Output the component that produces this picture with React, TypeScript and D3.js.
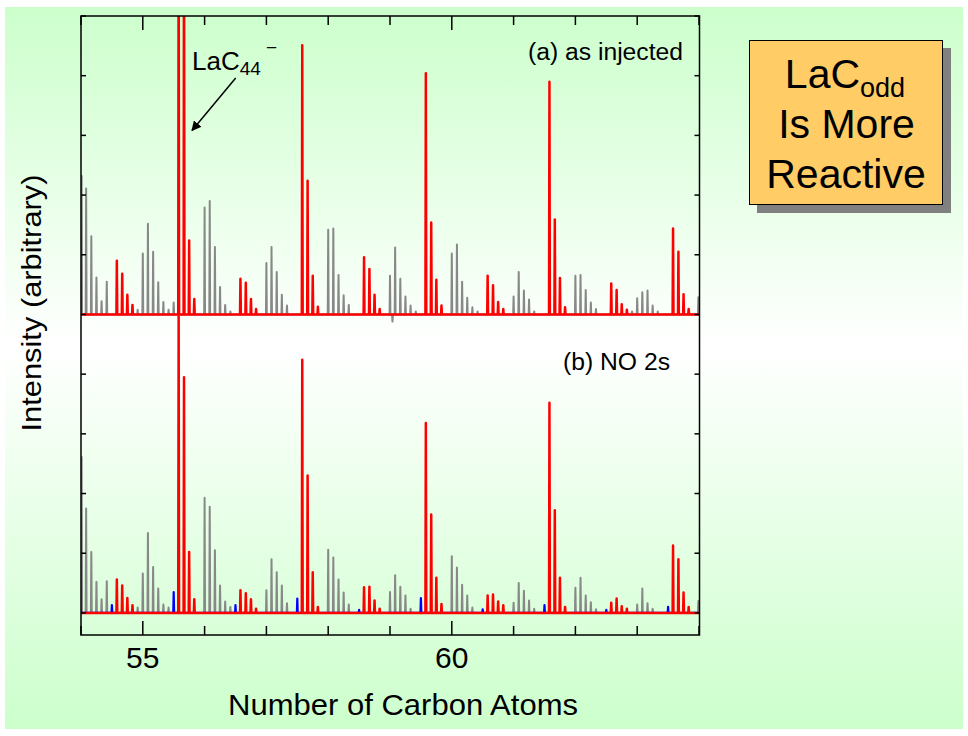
import React from "react";
import * as d3 from "d3";

// ---- data ----
// x in "Number of Carbon Atoms" units, h in arbitrary intensity units
const topGray: [number, number][] = [
  [54.01, 2.32], [54.083, 2.11], [54.167, 1.31], [54.25, 0.62], [54.333, 0.22], [54.417, 0.55],
  [54.917, 0.08], [55.0, 1.02], [55.083, 1.52], [55.167, 1.05], [55.25, 0.54], [55.333, 0.21], [55.417, 0.08], [55.5, 0.2],
  [56.0, 1.79], [56.083, 1.9], [56.167, 1.13], [56.25, 0.46], [56.333, 0.16], [56.417, 0.05],
  [57.0, 0.86], [57.083, 1.13], [57.167, 0.71], [57.25, 0.33], [57.333, 0.15],
  [58.0, 1.42], [58.083, 1.44], [58.167, 0.66], [58.25, 0.32], [58.333, 0.16],
  [59.0, 0.65], [59.04, -0.12], [59.083, 1.12], [59.167, 0.6], [59.25, 0.3], [59.333, 0.15], [59.417, 0.05],
  [60.0, 1.02], [60.083, 1.17], [60.167, 0.55], [60.25, 0.28], [60.333, 0.12], [60.417, 0.05],
  [61.0, 0.3], [61.083, 0.71], [61.167, 0.4], [61.25, 0.25], [61.333, 0.05],
  [62.0, 0.65], [62.083, 0.66], [62.167, 0.41], [62.25, 0.2], [62.333, 0.09],
  [62.917, 0.05], [63.0, 0.27], [63.083, 0.37], [63.167, 0.4], [63.25, 0.15], [63.333, 0.05],
  [63.99, 0.29],
];
const topRed: [number, number][] = [
  [54.58, 0.9], [54.667, 0.68], [54.75, 0.33], [54.833, 0.16],
  [55.58, 7], [55.667, 7], [55.75, 1.24], [55.833, 0.26],
  [56.58, 0.6], [56.667, 0.53], [56.75, 0.26], [56.833, 0.09],
  [57.58, 4.51], [57.667, 2.24], [57.75, 0.65], [57.833, 0.13],
  [58.58, 0.96], [58.667, 0.76], [58.75, 0.33], [58.833, 0.09],
  [59.58, 4.04], [59.667, 1.54], [59.75, 0.58], [59.833, 0.15],
  [60.58, 0.65], [60.667, 0.49], [60.75, 0.21], [60.833, 0.09],
  [61.58, 3.9], [61.667, 1.59], [61.75, 0.61], [61.833, 0.12],
  [62.58, 0.52], [62.667, 0.41], [62.75, 0.17], [62.833, 0.08],
  [63.58, 1.44], [63.667, 1.05], [63.75, 0.34], [63.833, 0.09],
];
const bottomGray: [number, number][] = [
  [54.01, 2.61], [54.083, 1.75], [54.167, 1.02], [54.25, 0.52], [54.333, 0.23], [54.417, 0.53],
  [54.917, 0.09], [55.0, 0.66], [55.083, 1.34], [55.167, 0.77], [55.25, 0.41], [55.333, 0.14], [55.417, 0.09],
  [56.0, 1.93], [56.083, 1.78], [56.167, 1.05], [56.25, 0.46], [56.333, 0.19], [56.417, 0.1],
  [57.0, 0.38], [57.083, 0.9], [57.167, 0.68], [57.25, 0.46], [57.333, 0.16],
  [58.0, 1.06], [58.083, 0.93], [58.167, 0.56], [58.25, 0.34], [58.333, 0.14],
  [59.0, 0.35], [59.083, 0.63], [59.167, 0.44], [59.25, 0.29], [59.333, 0.07],
  [60.0, 0.95], [60.083, 0.76], [60.167, 0.47], [60.25, 0.29], [60.333, 0.09],
  [61.0, 0.17], [61.083, 0.5], [61.167, 0.37], [61.25, 0.21], [61.333, 0.07],
  [62.0, 0.42], [62.083, 0.59], [62.167, 0.29], [62.25, 0.18], [62.333, 0.06],
  [63.0, 0.14], [63.083, 0.41], [63.167, 0.16], [63.25, 0.07],
  [63.99, 0.2],
];
const bottomRed: [number, number][] = [
  [54.58, 0.56], [54.667, 0.46], [54.75, 0.25], [54.833, 0.13],
  [55.58, 5.0], [55.667, 3.95], [55.75, 1.02], [55.833, 0.23],
  [56.58, 0.38], [56.667, 0.33], [56.75, 0.23], [56.833, 0.07],
  [57.58, 4.24], [57.667, 2.3], [57.75, 0.68], [57.833, 0.1],
  [58.58, 0.43], [58.667, 0.44], [58.75, 0.21], [58.833, 0.07],
  [59.58, 3.18], [59.667, 1.65], [59.75, 0.59], [59.833, 0.15],
  [60.58, 0.29], [60.667, 0.31], [60.75, 0.19], [60.833, 0.13],
  [61.58, 3.52], [61.667, 1.72], [61.75, 0.59], [61.833, 0.1],
  [62.58, 0.17], [62.667, 0.24], [62.75, 0.11], [62.833, 0.07],
  [63.58, 1.13], [63.667, 0.9], [63.75, 0.34], [63.833, 0.1],
];
const bottomBlue: [number, number][] = [
  [54.5, 0.13], [55.5, 0.35], [56.5, 0.13], [57.5, 0.24], [58.5, 0.05],
  [59.5, 0.25], [60.5, 0.06], [61.5, 0.13], [62.5, 0.05], [63.5, 0.1],
];

const xDomain: [number, number] = [54, 64];
const yDomain: [number, number] = [-0.37, 10];
const xTicks = [54, 55, 56, 57, 58, 59, 60, 61, 62, 63, 64];
const xTickLabels = [55, 60];
const yTicks = [0, 1, 2, 3, 4, 5, 6, 7, 8, 9, 10];
const topOffset = 5;
const bottomOffset = 0;

const W = 968;
const H = 736;
const L = 81, R = 699.5, T = 16, B = 635;

const font = "'Liberation Sans', Arial, Helvetica, sans-serif";

export default function App() {
  const xs = d3.scaleLinear().domain(xDomain).range([L, R - 0.5]);
  const ys = d3.scaleLinear().domain(yDomain).range([B, T]);

  const hw = 0.007;
  const tracePath = (peaks: [number, number][], offset: number) => {
    const sorted = [...peaks].sort((a, b) => a[0] - b[0]);
    const pts: [number, number][] = [[xDomain[0], 0]];
    sorted.forEach(([x, h]) => {
      pts.push([x - hw, 0], [x, h], [x + hw, 0]);
    });
    pts.push([xDomain[1], 0]);
    const line = d3
      .line<[number, number]>()
      .x((d) => xs(d[0]))
      .y((d) => ys(d[1] + offset));
    return line(pts) || "";
  };

  const majors = new Set(xTickLabels);

  return (
    <svg
      width={W}
      height={H}
      style={{ position: "absolute", left: 0, top: 0, fontFamily: font }}
    >
      <defs>
        <linearGradient id="bg" x1="0" y1="0" x2="0" y2="1">
          <stop offset="0" stopColor="#CCFFCC" />
          <stop offset="0.47" stopColor="#FFFFFF" />
          <stop offset="1" stopColor="#CCFFCC" />
        </linearGradient>
        <clipPath id="plotClip">
          <rect x={L} y={T} width={R - L} height={B - T} />
        </clipPath>
        <marker
          id="arrowHead"
          viewBox="0 0 10 10"
          refX="9"
          refY="5"
          markerWidth="10"
          markerHeight="10"
          markerUnits="userSpaceOnUse"
          orient="auto"
        >
          <path d="M0,0 L10,5 L0,10 z" fill="#000" />
        </marker>
      </defs>

      <rect x={0} y={0} width={W} height={H} fill="#FFFFFF" />
      <rect x={5} y={7} width={958} height={722} fill="url(#bg)" />

      {/* traces */}
      <g clipPath="url(#plotClip)" fill="none" strokeLinejoin="round">
        <path d={tracePath(bottomGray, bottomOffset)} stroke="#888888" strokeWidth={2} />
        <path d={tracePath(bottomBlue, bottomOffset)} stroke="#0000FF" strokeWidth={2.2} />
        <path d={tracePath(bottomRed, bottomOffset)} stroke="#FF0000" strokeWidth={2.5} />
        <path d={tracePath(topGray, topOffset)} stroke="#888888" strokeWidth={2} />
        <path d={tracePath(topRed, topOffset)} stroke="#FF0000" strokeWidth={2.5} />
      </g>

      {/* frame */}
      <rect x={L} y={T} width={R - L} height={B - T} fill="none" stroke="#000" strokeWidth={1.5} />

      {/* x ticks bottom & top */}
      {xTicks.map((t) => {
        const len = majors.has(t) ? 14 : 9;
        return (
          <g key={"xt" + t} stroke="#000" strokeWidth={1.5}>
            <line x1={xs(t)} x2={xs(t)} y1={B} y2={B - len} />
            <line x1={xs(t)} x2={xs(t)} y1={T} y2={T + len} />
          </g>
        );
      })}
      {/* y ticks left & right */}
      {yTicks.map((t) => (
        <g key={"yt" + t} stroke="#000" strokeWidth={1.5}>
          <line x1={L} x2={L + 5} y1={ys(t)} y2={ys(t)} />
          <line x1={R} x2={R - 5} y1={ys(t)} y2={ys(t)} />
        </g>
      ))}

      {/* tick labels */}
      {xTickLabels.map((t) => (
        <text key={"xl" + t} x={xs(t)} y={668} fontSize={30} textAnchor="middle" fill="#000">
          {t}
        </text>
      ))}

      {/* axis titles */}
      <text x={(228 + 578) / 2} y={715} fontSize={29} textAnchor="middle" fill="#000"
        textLength={350} lengthAdjust="spacingAndGlyphs">
        Number of Carbon Atoms
      </text>
      <text transform="translate(41,303) rotate(-90)" fontSize={28} textAnchor="middle" fill="#000"
        textLength={257} lengthAdjust="spacingAndGlyphs">
        Intensity (arbitrary)
      </text>

      {/* panel labels */}
      <text x={528} y={60} fontSize={23} fill="#000" textLength={155} lengthAdjust="spacingAndGlyphs">
        (a) as injected
      </text>
      <text x={563} y={370} fontSize={23} fill="#000" textLength={107} lengthAdjust="spacingAndGlyphs">
        (b) NO 2s
      </text>

      {/* LaC44- annotation */}
      <text x={192} y={70} fontSize={26} fill="#000">
        LaC
        <tspan fontSize={19} dy={5}>44</tspan>
      </text>
      <text x={266} y={54} fontSize={19} fill="#000">−</text>
      <line x1={235.7} y1={78} x2={192} y2={130.5} stroke="#000" strokeWidth={1.5}
        markerEnd="url(#arrowHead)" />

      {/* conclusion box */}
      <rect x={757} y={48} width={194} height={165} fill="#808080" />
      <rect x={749.5} y={40.5} width={193} height={164} fill="#FFCC66" stroke="#000" strokeWidth={1} />
      <text x={845} y={88} fontSize={41} textAnchor="middle" fill="#000">
        LaC
        <tspan fontSize={27} dy={8.7}>odd</tspan>
      </text>
      <text x={846.5} y={138} fontSize={41} textAnchor="middle" fill="#000">Is More</text>
      <text x={846} y={188} fontSize={41} textAnchor="middle" fill="#000">Reactive</text>
    </svg>
  );
}
